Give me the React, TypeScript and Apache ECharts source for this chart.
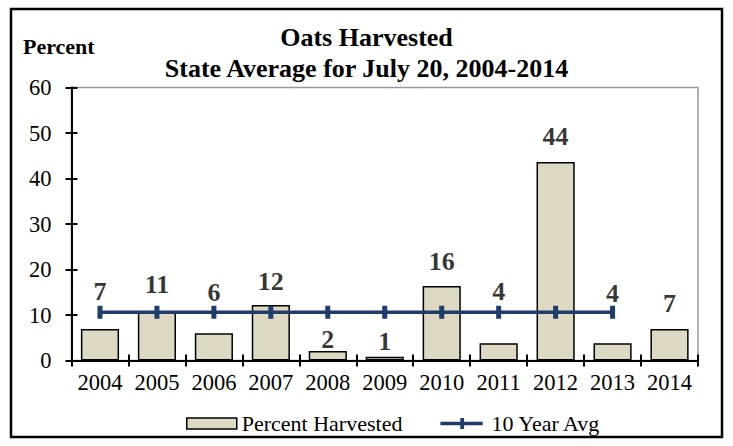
import React, { useEffect, useRef } from "react";
import * as echarts from "echarts";

const years = ["2004", "2005", "2006", "2007", "2008", "2009", "2010", "2011", "2012", "2013", "2014"];
const percentHarvested = [6.9, 10.6, 6.0, 12.2, 2.1, 0.8, 16.4, 3.8, 43.6, 3.8, 6.9];
const tenYearAvg: (number | null)[] = [10.6, 10.6, 10.6, 10.6, 10.6, 10.6, 10.6, 10.6, 10.6, 10.6, null];
// where each data label sits (in axis units), as placed in the original chart
const labelPos = [15.1, 16.6, 14.9, 17.3, 4.7, 4.1, 21.7, 15.1, 49.2, 14.7, 12.6];

const FONT = "Liberation Serif";
const NAVY = "#1F3D68";

export default function App() {
  const ref = useRef<HTMLDivElement>(null);
  useEffect(() => {
    document.body.style.margin = "0";
    const chart = echarts.init(ref.current!, null, { renderer: "svg" });
    chart.setOption({
      animation: false,
      backgroundColor: "#ffffff",
      textStyle: { fontFamily: FONT },
      title: {
        text: "Oats Harvested\nState Average for July 20, 2004-2014",
        left: "center",
        top: 17,
        textStyle: { fontFamily: FONT, fontSize: 26, fontWeight: "bold", color: "#000", lineHeight: 31 },
      },
      graphic: [
        {
          type: "rect",
          shape: { x: 11, y: 9, width: 711, height: 428 },
          style: { fill: "none", stroke: "#000", lineWidth: 2.5 },
          silent: true,
        },
        {
          type: "text",
          x: 23,
          y: 46,
          style: { text: "Percent", fontFamily: FONT, fontSize: 22, fontWeight: "bold", fill: "#000", verticalAlign: "middle" },
          silent: true,
        },
      ],
      legend: {
        data: [
          { name: "Percent Harvested", icon: "rect", itemStyle: { borderColor: "#000", borderWidth: 1.5 } },
          { name: "10 Year Avg", icon: "path://M0,4.5 H50 V8.5 H0 Z M23.5,0 H28 V13 H23.5 Z", itemStyle: { color: NAVY, borderWidth: 0 } },
        ],
        left: 181,
        top: 407,
        itemWidth: 50,
        itemHeight: 11,
        itemGap: 38,
        textStyle: { fontFamily: FONT, fontSize: 22, color: "#000", lineHeight: 23 },
      },
      grid: { left: 71.5, right: 35, top: 87.5, bottom: 85.5, show: true, borderColor: "#999", borderWidth: 1.5 },
      xAxis: [
        {
          type: "category",
          data: years,
          axisLine: { lineStyle: { color: "#000", width: 2 } },
          axisTick: { show: true, interval: 0, length: 6, lineStyle: { color: "#000", width: 2 } },
          axisLabel: { color: "#000", fontSize: 22.5, fontFamily: FONT, margin: 10, interval: 0, hideOverlap: false },
        },
        {
          type: "category",
          data: years,
          position: "bottom",
          axisLine: { show: false },
          axisTick: { show: true, interval: 0, inside: true, length: 6, lineStyle: { color: "#000", width: 2 } },
          axisLabel: { show: false },
        },
      ],
      yAxis: [
        {
          type: "value",
          min: 0,
          max: 60,
          interval: 10,
          axisLine: { show: true, lineStyle: { color: "#000", width: 2 } },
          axisTick: { show: true, length: 6, lineStyle: { color: "#000", width: 2 } },
          axisLabel: { color: "#000", fontSize: 22.5, fontFamily: FONT, margin: 20 },
          splitLine: { show: false },
        },
        {
          type: "value",
          min: 0,
          max: 60,
          interval: 10,
          position: "left",
          axisLine: { show: false },
          axisTick: { show: true, inside: true, length: 6, lineStyle: { color: "#000", width: 2 } },
          axisLabel: { show: false },
          splitLine: { show: false },
        },
      ],
      series: [
        {
          name: "Percent Harvested",
          type: "bar",
          data: percentHarvested,
          barCategoryGap: "33%",
          itemStyle: { color: "#DDD9C3", borderColor: "#000", borderWidth: 1.5 },
          z: 2,
        },
        {
          name: "10 Year Avg",
          type: "line",
          data: tenYearAvg,
          symbol: "rect",
          symbolSize: [5, 13],
          showSymbol: true,
          lineStyle: { color: NAVY, width: 3.5 },
          itemStyle: { color: NAVY },
          z: 3,
        },
        {
          name: "labels",
          type: "scatter",
          data: labelPos,
          symbolSize: 0,
          silent: true,
          z: 4,
          label: {
            show: true,
            position: "inside",
            formatter: (p: any) => String(Math.round(percentHarvested[p.dataIndex])),
            fontFamily: FONT,
            fontSize: 26,
            fontWeight: "bold",
            color: "#000",
          },
        },
      ],
    });
    return () => chart.dispose();
  }, []);
  return <div ref={ref} style={{ width: 733, height: 446 }} />;
}
